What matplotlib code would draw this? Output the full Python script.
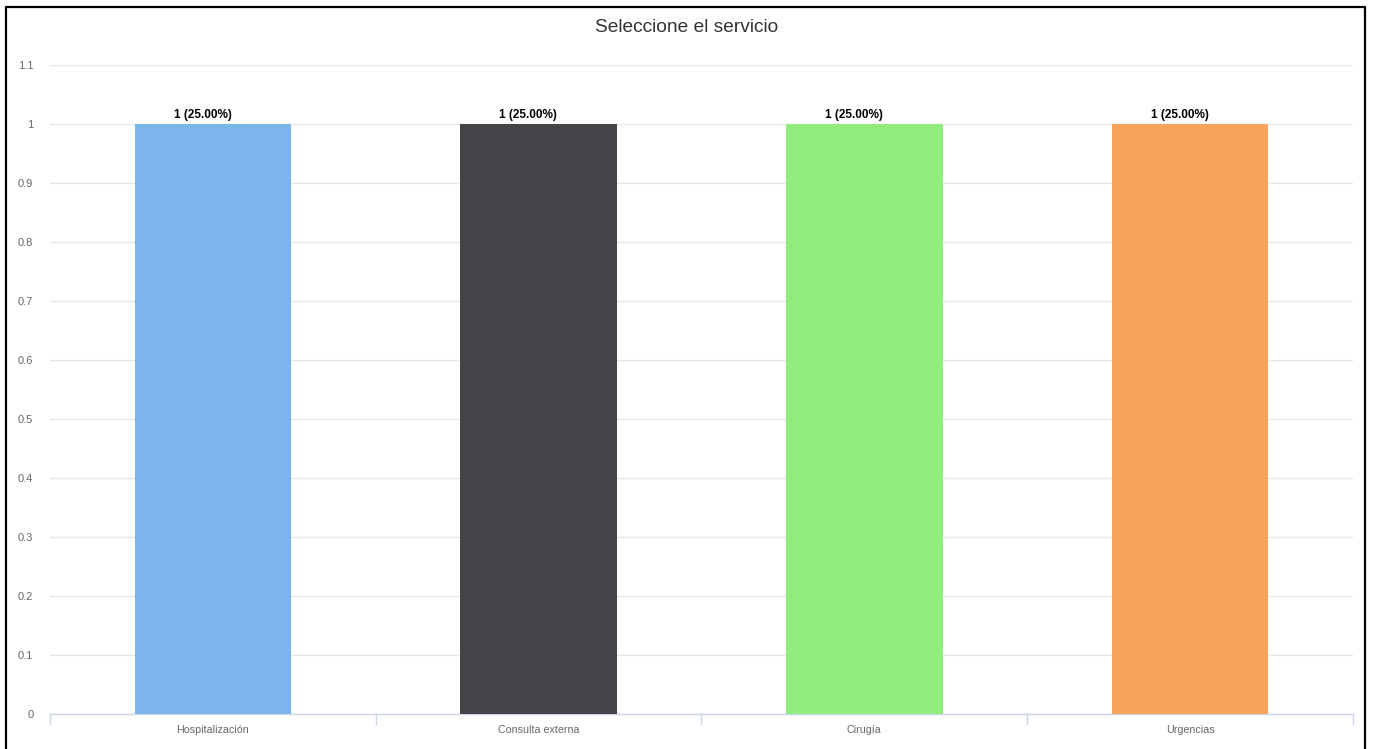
import matplotlib
matplotlib.use('Agg')
import matplotlib.pyplot as plt
from matplotlib.lines import Line2D

plt.rcParams['font.family'] = ['Liberation Sans', 'DejaVu Sans']

# data
categories = ['Hospitalización', 'Consulta externa', 'Cirugía', 'Urgencias']
values = [1, 1, 1, 1]
percents = [25.00, 25.00, 25.00, 25.00]
colors = ['#7cb5ec', '#434348', '#90ed7d', '#f7a35c']
yticks = [0, 0.1, 0.2, 0.3, 0.4, 0.5, 0.6, 0.7, 0.8, 0.9, 1, 1.1]

W, H = 1373, 749
fig = plt.figure(figsize=(W / 100, H / 100), dpi=100)
ax = fig.add_axes([50 / W, 1 - 714 / H, (1353 - 50) / W, (714 - 65) / H])

x = list(range(len(categories)))
ax.bar(x, values, width=0.48, color=colors, zorder=3)

# data labels sit a little left of the bar centre, like the original
for xi, v, p in zip(x, values, percents):
    ax.annotate(f'{v} ({p:.2f}%)', xy=(xi, v), xytext=(-7.5, 2.5),
                textcoords='offset points', ha='center', va='bottom',
                fontsize=8.5, fontweight='bold', color='#000000', zorder=4)

ax.set_xlim(-0.5, len(categories) - 0.5)
ax.set_ylim(0, 1.1)
ax.set_yticks(yticks)
ax.set_yticklabels([f'{t:g}' for t in yticks])
ax.yaxis.grid(True, color='#e6e6e6', lw=1, zorder=0)
ax.tick_params(axis='y', length=0, pad=12, labelsize=8, labelcolor='#666666')

ax.set_xticks(x)
ax.set_xticklabels(categories)
ax.tick_params(axis='x', length=0, pad=8, labelsize=7.7, labelcolor='#666666')

for side in ['top', 'right', 'left']:
    ax.spines[side].set_visible(False)
ax.spines['bottom'].set_color('#ccd6eb')
ax.spines['bottom'].set_linewidth(1)

# category boundary ticks below the axis
for b in [-0.5, 0.5, 1.5, 2.5, 3.5]:
    ax.plot([b, b], [0, -0.017], color='#ccd6eb', lw=1, clip_on=False, zorder=2)

fig.text(0.5, 1 - 28 / H, 'Seleccione el servicio', ha='center', va='center',
         fontsize=13.8, color='#333333')

# black frame around the chart (bottom edge cut off)
fig.add_artist(Line2D([6 / W, 6 / W, 1365 / W, 1365 / W],
                      [0, 1 - 7 / H, 1 - 7 / H, 0],
                      transform=fig.transFigure, color='black', lw=1.6))

fig.savefig('out.png', dpi=100, facecolor='white')
